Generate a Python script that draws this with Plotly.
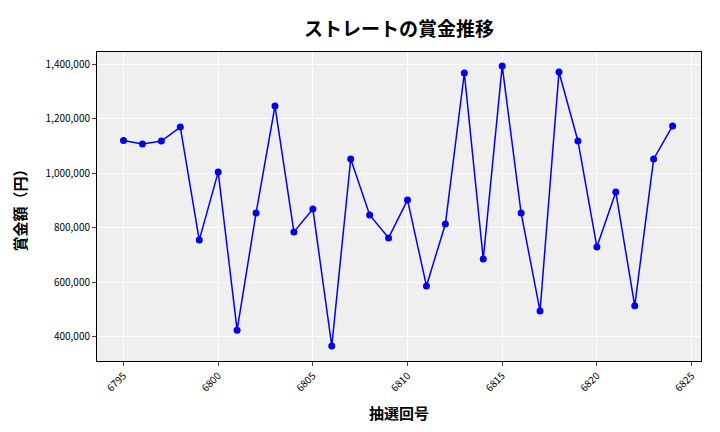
import plotly.graph_objects as go

draws = list(range(6795, 6825))
prizes = [1120000, 1107000, 1118000, 1169000, 755000, 1004000, 425000, 854000, 1246000, 785000,
          869000, 367000, 1052000, 847000, 763000, 902000, 587000, 814000, 1367000, 686000,
          1393000, 854000, 495000, 1371000, 1118000, 730000, 931000, 514000, 1052000, 1173000]

fig = go.Figure(go.Scatter(x=draws, y=prizes, mode="lines+markers",
                           line=dict(color="#0000ee", width=1.5),
                           marker=dict(color="#0000ee", size=7)))
font = "Noto Sans CJK JP"
fig.update_layout(
    width=720, height=432, margin=dict(l=87, r=27, t=44, b=79),
    paper_bgcolor="white", plot_bgcolor="#efefef",
    font=dict(family=font, color="black"),
    title=dict(text="<b>ストレートの賞金推移</b>", x=0.5, xref="paper", xanchor="center",
               y=0.965, font=dict(size=19)),
    showlegend=False,
)
fig.update_xaxes(range=[6793.6, 6825.5], tickvals=[6795, 6800, 6805, 6810, 6815, 6820, 6825],
                 tickangle=-45, tickfont=dict(size=10), gridcolor="white", zeroline=False,
                 ticks="outside", ticklen=4, showline=True, linecolor="black", mirror=True,
                 title=dict(text="<b>抽選回号</b>", font=dict(size=15)))
fig.update_yaxes(range=[312000, 1444000], tickvals=[400000, 600000, 800000, 1000000, 1200000, 1400000],
                 tickformat=",", tickfont=dict(size=10), gridcolor="white", zeroline=False,
                 ticks="outside", ticklen=4, showline=True, linecolor="black", mirror=True,
                 title=dict(text="<b>賞金額（円）</b>", font=dict(size=15)))
fig.write_html("out.html")
